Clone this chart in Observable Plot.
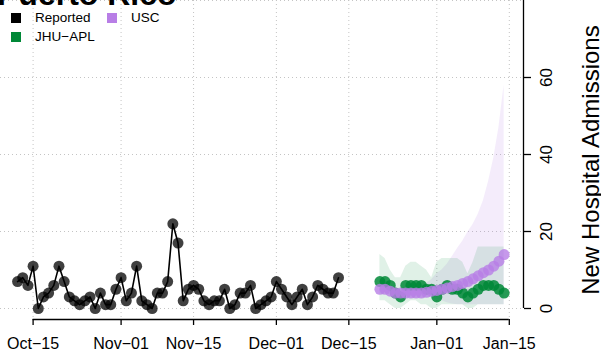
<!DOCTYPE html>
<html><head><meta charset="utf-8">
<script src="https://cdn.jsdelivr.net/npm/d3@7"></script>
<script src="https://cdn.jsdelivr.net/npm/@observablehq/plot@0.6"></script>
<style>
body{margin:0;background:#fff;}
#wrap{position:relative;width:601px;height:360px;overflow:hidden;font-family:"Liberation Sans",Arial,Helvetica,sans-serif;}
#title{position:absolute;left:-3px;top:-22px;font-size:32px;font-weight:bold;line-height:32px;white-space:nowrap;color:#000;}
.leg{position:absolute;font-size:13.5px;line-height:14px;white-space:nowrap;color:#000;}
.sw{position:absolute;width:10px;height:10px;}
#chart{position:absolute;left:0;top:0;}
</style></head><body>
<div id="wrap"><div id="chart"></div><div id="title"></div><div id="legend"></div></div>
<script>
// ---- data ----
const titleText = "Puerto Rico";
const yLabel = "New Hospital Admissions";
const seriesNames = ["Reported", "JHU\u2212APL", "USC"];
const seriesColors = ["#000000", "#008837", "#b87ee6"];

const reportedStart = "2023-10-12";
const reportedValues = [7,8,6,11,0,3,4,6,11,7,3,2,1,2,3,0,4,1,1,5,8,2,4,11,2,1,0,4,4,7,22,17,2,5,6,5,2,1,2,2,5,0,1,4,4,6,0,1,2,3,7,5,3,1,3,5,1,3,6,5,4,4,8];

const forecastStart = "2023-12-21";
const jhuValues = [7,7,6,4,3,6,6,6,6,5,5,3,5,6,5,5,4,3,4,5,6,6,6,5,4];
const jhuLower  = [2,2,1,0,0,1,2,2,1,1,0,0,1,1,1,1,1,0,0,1,1,1,1,1,1];
const jhuUpper  = [14,13,10,8,8,11,12,12,11,10,8,12,13,13,13,13,12,9,12,16,16,16,16,16,16];

const uscValues = [5,5,4.5,4,4,4,4,4,4,4.2,4.5,4.7,5,5.3,5.7,6,6.5,7,7.7,8.5,9.3,10,11,12.3,14];
const uscLower  = [4,4,3.5,3.2,3,3,3,3,3,3,2.8,2.5,2,1.5,1.2,1,1,1,1,1,1,1,1,1,1];
const uscUpper  = [6,6,5.5,5.2,5.2,5.3,5.4,5.6,6,6.5,7.5,9,10,11.5,13.5,15.6,17.5,19.8,21.8,24.5,28,33,39,47,58];

const xTickDates = ["2023-10-15","2023-11-01","2023-11-15","2023-12-01","2023-12-15","2024-01-01","2024-01-15"];
const xTickLabels = ["Oct\u221215","Nov\u221201","Nov\u221215","Dec\u221201","Dec\u221215","Jan\u221201","Jan\u221215"];
const yTicks = [0,20,40,60];
const yGrid = [0,20,40,60,80];

// ---- build tables ----
const parse = d3.utcParse("%Y-%m-%d");
const reported = reportedValues.map((v,i)=>({date:d3.utcDay.offset(parse(reportedStart),i), value:v}));
const fStart = parse(forecastStart);
const jhu = jhuValues.map((v,i)=>({date:d3.utcDay.offset(fStart,i), value:v, lo:jhuLower[i], hi:jhuUpper[i]}));
const usc = uscValues.map((v,i)=>({date:d3.utcDay.offset(fStart,i), value:v, lo:uscLower[i], hi:uscUpper[i]}));
const tickDates = xTickDates.map(parse);
const labelByTime = new Map(tickDates.map((d,i)=>[+d, xTickLabels[i]]));
const firstTick = tickDates[0], lastTick = tickDates[tickDates.length-1];

const gridStyle = {stroke:"#c4c4c4", strokeDasharray:"1,3", strokeWidth:1};

const chart = Plot.plot({
  width: 601,
  height: 360,
  marginLeft: 0,
  marginRight: 78,
  marginTop: 0,
  marginBottom: 41,
  style: {fontFamily: '"Liberation Sans", Arial, sans-serif', background: "transparent", overflow: "visible"},
  x: {type: "utc", domain: [firstTick, lastTick], range: [32.6, 508.8]},
  y: {domain: [0, 80], range: [308, 0]},
  marks: [
    Plot.ruleX(tickDates, gridStyle),
    Plot.ruleY(yGrid, gridStyle),
    Plot.areaY(usc, {x:"date", y1:"lo", y2:"hi", fill: seriesColors[2], fillOpacity: 0.15}),
    Plot.areaY(jhu, {x:"date", y1:"lo", y2:"hi", fill: seriesColors[1], fillOpacity: 0.12}),
    Plot.dot(reported, {x:"date", y:"value", r:5.5, fill: seriesColors[0], fillOpacity:0.75, stroke:null}),
    Plot.line(reported, {x:"date", y:"value", stroke: seriesColors[0], strokeWidth:1.6}),
    Plot.dot(jhu, {x:"date", y:"value", r:5.5, fill: seriesColors[1], fillOpacity:0.85, stroke:null}),
    Plot.dot(usc, {x:"date", y:"value", r:5.5, fill: seriesColors[2], fillOpacity:0.8, stroke:null}),
    // x axis
    Plot.ruleY([0], {x1: firstTick, x2: lastTick, dy: 11, stroke:"#000", strokeWidth:1.3}),
    Plot.axisX({ticks: tickDates, tickFormat: d => labelByTime.get(+d), tickSize: 6, tickPadding: 12, fontSize: 16, label: null, stroke:"#000", strokeWidth:1.3}),
    // y axis on the right
    Plot.ruleX([lastTick], {y1: 0, y2: 80, dx: 14.2, stroke:"#000", strokeWidth:1.3}),
    Plot.axisY({anchor: "right", ticks: yTicks, tickSize: 7, tickFormat: () => "", label: null, stroke:"#000", strokeWidth:1.3}),
    Plot.text(yTicks, {y: d => d, frameAnchor: "right", dx: 23, rotate: -90, text: d => `${d}`, textAnchor: "middle", lineAnchor: "middle", fontSize: 17, fill:"#000"}),
    Plot.text([yLabel], {frameAnchor: "right", dx: 68, rotate: -90, text: d => d, textAnchor: "middle", lineAnchor: "middle", fontSize: 24, fill:"#000"})
  ]
});
document.getElementById("chart").appendChild(chart);

document.getElementById("title").textContent = titleText;

// legend (two columns, filled column-wise)
const legendPos = [[11,13,35],[11,32,35],[107,13,131]];
const leg = document.getElementById("legend");
seriesNames.forEach((name,i)=>{
  const [sx, sy, tx] = legendPos[i];
  const sw = document.createElement("div");
  sw.className = "sw";
  sw.style.left = sx + "px"; sw.style.top = sy + "px";
  sw.style.background = seriesColors[i];
  leg.appendChild(sw);
  const t = document.createElement("div");
  t.className = "leg";
  t.style.left = tx + "px"; t.style.top = (sy - 2) + "px";
  t.textContent = name;
  leg.appendChild(t);
});
</script>
</body></html>
